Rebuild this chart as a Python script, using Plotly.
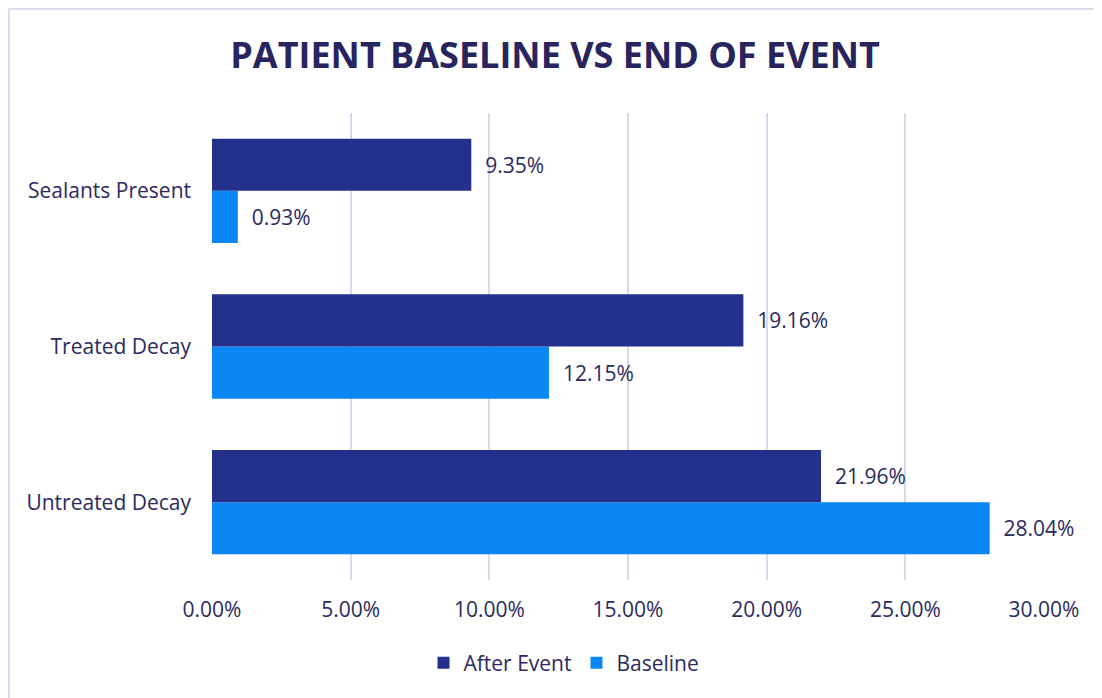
import plotly.graph_objects as go

categories = ["Untreated Decay", "Treated Decay", "Sealants Present"]
baseline = [28.04, 12.15, 0.93]
after_event = [21.96, 19.16, 9.35]
tick_vals = [0, 5, 10, 15, 20, 25, 30]

TEXT = "#2B2A5E"
FONT = "Open Sans"
FS = 21
OFF = 8  # page body margin

fig = go.Figure()
fig.add_trace(go.Bar(
    y=categories, x=baseline, name="Baseline", orientation="h",
    marker=dict(color="#0A87F5", line=dict(width=0)),
    text=baseline, texttemplate="\u00a0\u00a0%{x:.2f}%", textposition="outside",
    textfont=dict(color=TEXT, size=FS, family=FONT), cliponaxis=False,
    legendrank=2,
))
fig.add_trace(go.Bar(
    y=categories, x=after_event, name="After Event", orientation="h",
    marker=dict(color="#23318C", line=dict(width=0)),
    text=after_event, texttemplate="\u00a0\u00a0%{x:.2f}%", textposition="outside",
    textfont=dict(color=TEXT, size=FS, family=FONT), cliponaxis=False,
    legendrank=1,
))

W, H = 1102 - OFF, 698 - OFF
L, R, T, B = 212 - OFF, 1102 - 1044, 113 - OFF, 698 - 580
pw, ph = W - L - R, H - T - B

def px_x(x):
    return (x - OFF - L) / pw

def px_y(y):
    return (H - B - (y - OFF)) / ph

edge_x = (0.8 - L) / pw
edge_y = (H - B - 0.8) / ph
BORDER = "#D9D6EE"

fig.update_layout(
    width=W, height=H,
    margin=dict(l=L, r=R, t=T, b=B),
    paper_bgcolor="white", plot_bgcolor="white",
    barmode="group", bargap=0.33, bargroupgap=0,
    font=dict(family=FONT, color=TEXT, size=FS),
    title=dict(text="<b>PATIENT BASELINE VS END OF EVENT</b>",
               x=0.5, xanchor="center", y=1 - (55 - OFF) / H, yanchor="middle",
               font=dict(size=36, color="#27245E", family=FONT)),
    xaxis=dict(range=[0, 30], tickvals=tick_vals, ticktext=[f"{v:.2f}%" for v in tick_vals],
               showgrid=True, gridcolor="#DAD8EE", gridwidth=2, zeroline=False,
               showline=False, ticks="", ticklabelstandoff=15,
               tickfont=dict(size=FS, color=TEXT)),
    yaxis=dict(categoryorder="array", categoryarray=categories,
               showgrid=False, zeroline=False, showline=False, ticks="",
               ticklabelstandoff=20, tickfont=dict(size=FS, color=TEXT)),
    legend=dict(orientation="h", x=px_x(564), xanchor="center", y=px_y(663), yanchor="middle",
                font=dict(size=FS, color=TEXT), itemwidth=30, traceorder="normal"),
    showlegend=True,
    shapes=[
        dict(type="line", xref="paper", yref="paper",
             x0=edge_x, x1=px_x(1102), y0=edge_y, y1=edge_y,
             line=dict(color=BORDER, width=2), layer="below"),
        dict(type="line", xref="paper", yref="paper",
             x0=edge_x, x1=edge_x, y0=edge_y, y1=px_y(698),
             line=dict(color=BORDER, width=2), layer="below"),
    ],
)

fig.write_html("out.html")
